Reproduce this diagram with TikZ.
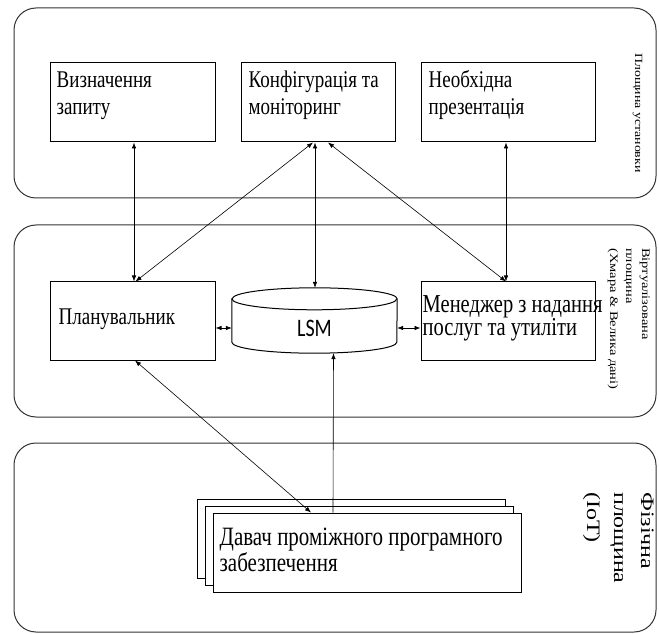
\documentclass[tikz,border=0pt]{standalone}
\usepackage{fontspec}
\setmainfont{Liberation Serif}
\newfontfamily\lsmfont{Carlito}
\usetikzlibrary{arrows.meta,positioning}
\tikzset{
	plane/.style={draw=black!80, line width=1pt, rounded corners=22pt, inner sep=0pt},
	block/.style={draw, line width=1pt, fill=white, inner sep=0pt},
	caption/.style={inner sep=0pt, anchor=base west},
	side/.style={inner sep=0pt, anchor=base west, rotate=-90},
	link/.style={line width=0.6pt, {Latex[length=6pt,width=4.5pt]}-{Latex[length=6pt,width=4.5pt]}},
	uplink/.style={line width=0.6pt, -{Latex[length=6pt,width=4.5pt]}}
}
% text in the boxes is set a little taller than wide
\newcommand{\tallbox}[3][19]{\scalebox{1}[1.26]{\fontsize{#1}{#2}\selectfont\begin{tabular}[t]{@{}l@{}}#3\end{tabular}}}
\newcommand{\sidetext}[3]{\scalebox{1.26}[1]{\fontsize{#1}{#2}\selectfont\begin{tabular}[t]{@{}l@{}}#3\end{tabular}}}
\newcommand{\linkboxes}[3]{
	\draw[#1] (#2) -- (#3);
}

\begin{document}
\begin{tikzpicture}[x=1pt,y=1pt]
	\useasboundingbox (0,0) rectangle (659,633);

	% the three planes
	\node[plane, minimum width=642, minimum height=190] (setup) at (335,530) {};
	\node[plane, minimum width=642, minimum height=192] (virtual) at (335,312) {};
	\node[plane, minimum width=642, minimum height=189] (physical) at (335,95.5) {};

	\node[side] (setup-label) at (635,580) {\sidetext{11}{14}{Площина установки}};
	\node[side] (virtual-label) at (642,385) {\sidetext{11.5}{16}{Віртуалізована\\площина\\(Хмара \& Велика дані)}};
	\node[side] (physical-label) at (641,141) {\sidetext{19}{27}{Фізічна\\площина\\(IoT)}};

	% setup plane
	\node[block, minimum width=165, minimum height=79] (query) at (132.5,530.5) {};
	\node[block, minimum width=154, minimum height=79] (config) at (318,530.5) {};
	\node[block, minimum width=174, minimum height=79] (present) at (508,530.5) {};
	\node[caption] (query-text) at ([shift={(7,-25)}]query.north west) {\tallbox{21.5}{Визначення\\запиту}};
	\node[caption] (config-text) at ([shift={(8,-25)}]config.north west) {\tallbox{21.5}{Конфігурація та\\моніторинг}};
	\node[caption] (present-text) at ([shift={(8,-25)}]present.north west) {\tallbox{21.5}{Необхідна\\презентація}};

	% virtualized plane
	\node[block, minimum width=165, minimum height=78] (planner) at (132.5,312) {};
	\node[block, minimum width=174, minimum height=78] (manager) at (508,312) {};
	\node[inner sep=0pt, minimum width=165, minimum height=65] (lsm) at (314.5,312.5) {};
	\draw[line width=1pt] ([yshift=-11]lsm.north west) -- ([yshift=11]lsm.south west)
		arc[start angle=180, end angle=360, x radius=82.5, y radius=11]
		-- ([yshift=-11]lsm.north east)
		arc[start angle=0, end angle=180, x radius=82.5, y radius=11] -- cycle;
	\draw[line width=1pt] ([yshift=-11]lsm.north west) arc[start angle=180, end angle=360, x radius=82.5, y radius=11];
	\node[inner sep=0pt] (lsm-text) at ([yshift=-7.5]lsm.center) {\scalebox{1}[1.26]{\lsmfont\fontsize{20}{24}\selectfont LSM}};
	\node[caption] (planner-text) at ([shift={(9,-43)}]planner.north west) {\tallbox{21.5}{Планувальник}};
	\node[caption] (manager-text) at ([shift={(2,-31)}]manager.north west) {\tallbox[20.5]{16.5}{Менеджер з надання\\послуг та утиліти}};

	% physical plane: stacked sensor boxes
	\node[block, minimum width=308, minimum height=79] (sensor-c) at (351,94.5) {};
	\node[block, minimum width=308, minimum height=79] (sensor-b) at (359,87.5) {};
	\node[block, minimum width=308, minimum height=79] (sensor) at (367,80.5) {};
	\node[caption] (sensor-text) at ([shift={(7,-33)}]sensor.north west) {\tallbox[21]{18.5}{Давач проміжного програмного\\забезпечення}};

	% connections
	\linkboxes{link}{[xshift=1.5]query.south}{[xshift=1.5]planner.north}
	\linkboxes{link}{[xshift=-5]config.south}{[xshift=3]planner.north}
	\linkboxes{link}{[xshift=-3]config.south}{[xshift=0.5]lsm.north}
	\linkboxes{link}{[xshift=10]config.south}{[xshift=-2]manager.north}
	\linkboxes{link}{[xshift=-2]present.south}{[xshift=-2]manager.north}
	\linkboxes{link}{[yshift=-7]planner.east}{[yshift=-7.5]lsm.west}
	\linkboxes{link}{[yshift=-7.5]lsm.east}{[yshift=-7]manager.west}
	\linkboxes{link}{[xshift=-56]sensor.north}{[xshift=2.5]planner.south}
	\linkboxes{uplink}{[xshift=-34]sensor.north}{[xshift=19]lsm.south}
\end{tikzpicture}
\end{document}
